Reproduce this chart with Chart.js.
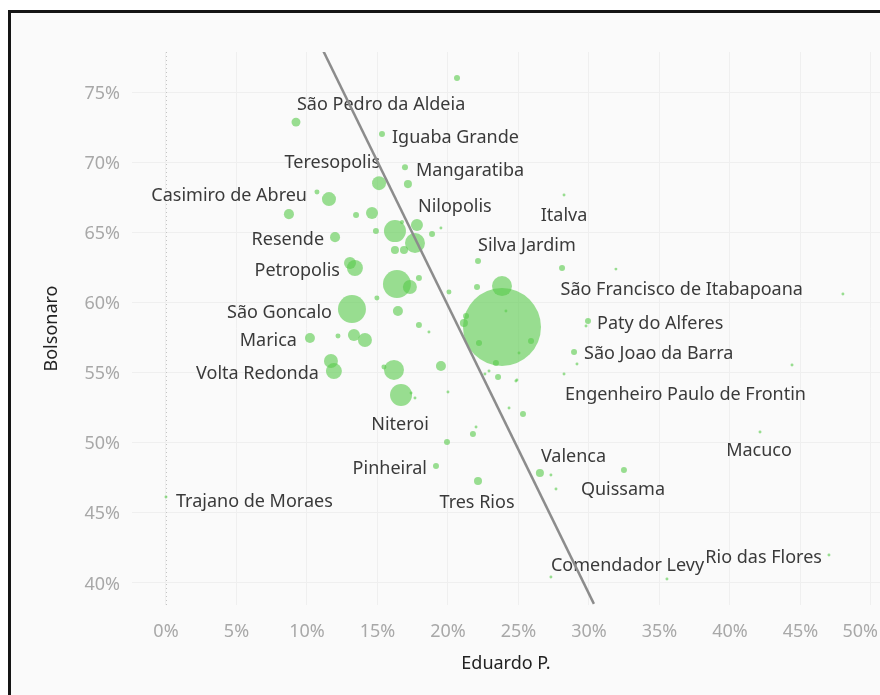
<!DOCTYPE html>
<html>
<head>
<meta charset="utf-8">
<script src="https://cdn.jsdelivr.net/npm/chart.js@4.4.1/dist/chart.umd.min.js"></script>
<style>
  html, body { margin: 0; padding: 0; background: #fff; overflow: hidden; }
  #marco { position: absolute; left: 8px; top: 10px; width: 900px; height: 700px; background: #fafafa;
           border-left: 3px solid #151515; border-top: 3px solid #151515; }
  #grafico { position: absolute; left: 0; top: 0; width: 880px; height: 695px; }
</style>
</head>
<body>
<div id="marco"></div>
<canvas id="grafico" width="880" height="695"></canvas>
<script>
// Datos: % Eduardo P. (x), % Bolsonaro (y), electores (miles) y nombre del municipio
const eduardo = [
  20.64, 9.22, 15.32, 16.95, 15.11, 17.16, 10.71, 11.56, 8.72, 13.48,
  14.61, 14.89, 16.24, 16.74, 17.80, 17.66, 18.87, 19.50, 11.99, 16.24,
  16.88, 22.13, 13.05, 13.40, 16.38, 17.30, 17.94, 20.07, 22.06, 23.83,
  14.96, 13.19, 16.45, 17.94, 18.65, 21.13, 21.28, 23.83, 24.11, 22.20,
  25.89, 10.21, 12.20, 13.33, 14.11, 11.70, 11.91, 16.17, 15.46, 19.50,
  23.40, 23.55, 22.91, 22.62, 25.04, 24.89, 16.67, 17.38, 17.66, 20.00,
  28.23, 28.09, 31.91, 48.01, 29.93, 29.79, 28.94, 29.15, 44.40, 28.23,
  24.82, 25.32, 24.33, 42.13, 26.52, 27.30, 32.48, 27.66, 47.02, 27.30,
  35.53, 21.99, 21.77, 19.93, 19.15, 22.13, 0.00
];
const bolsonaro = [
  76.00, 72.86, 72.01, 69.65, 68.51, 68.44, 67.87, 67.37, 66.30, 66.23,
  66.38, 65.09, 65.09, 65.73, 65.52, 64.24, 64.88, 65.31, 64.66, 63.74,
  63.74, 62.95, 62.81, 62.46, 61.31, 61.10, 61.74, 60.74, 61.10, 61.17,
  60.32, 59.53, 59.39, 58.39, 57.89, 58.54, 59.03, 58.25, 59.39, 57.11,
  57.25, 57.47, 57.61, 57.68, 57.32, 55.83, 55.11, 55.19, 55.40, 55.47,
  55.68, 54.69, 55.11, 54.90, 56.40, 54.47, 53.40, 53.55, 53.19, 53.62,
  67.66, 62.46, 62.38, 60.60, 58.68, 58.32, 56.47, 55.61, 55.54, 54.90,
  54.40, 52.05, 52.48, 50.77, 47.84, 47.70, 48.06, 46.70, 42.00, 40.43,
  40.29, 51.12, 50.62, 50.05, 48.34, 47.27, 46.13
];
const electores = [
  29, 65, 29, 29, 158, 52, 20, 158, 81, 29,
  116, 29, 390, 13, 116, 322, 29, 7, 81, 52,
  52, 29, 116, 206, 631, 158, 29, 20, 29, 322,
  20, 631, 81, 29, 7, 52, 29, 4900, 7, 29,
  29, 81, 20, 116, 158, 158, 206, 322, 20, 81,
  29, 29, 7, 7, 7, 7, 390, 7, 7, 7,
  7, 29, 7, 7, 29, 7, 29, 7, 7, 7,
  7, 29, 7, 7, 52, 7, 29, 7, 7, 7,
  7, 7, 29, 29, 29, 52, 7
];
const nombres = [
  '', 'São Pedro da Aldeia', 'Iguaba Grande', 'Mangaratiba', 'Teresopolis', '', 'Casimiro de Abreu', '', '', '',
  '', '', '', '', 'Nilopolis', '', '', '', 'Resende', '',
  '', 'Silva Jardim', '', 'Petropolis', '', '', '', '', '', '',
  '', 'São Goncalo', '', '', '', '', '', '', '', '',
  '', 'Marica', '', '', '', '', 'Volta Redonda', '', '', '',
  '', '', '', '', '', '', 'Niteroi', '', '', '',
  'Italva', '', '', 'São Francisco de Itabapoana', 'Paty do Alferes', '', 'São Joao da Barra', '', '', 'Engenheiro Paulo de Frontin',
  '', '', '', 'Macuco', 'Valenca', '', 'Quissama', '', 'Rio das Flores', 'Comendador Levy',
  '', '', '', '', 'Pinheiral', 'Tres Rios', 'Trajano de Moraes'
];

// Línea de tendencia (dos extremos)
const tendenciaX = [11.13, 30.35];
const tendenciaY = [77.99, 38.51];

// Marcas de los ejes
const ticksX = [0, 5, 10, 15, 20, 25, 30, 35, 40, 45, 50];
const ticksY = [40, 45, 50, 55, 60, 65, 70, 75];

// Posición de cada etiqueta respecto a su burbuja: [dx, dy, alineación]
const posEtiqueta = {
  'São Pedro da Aldeia': [1, -19, 'left'],
  'Iguaba Grande': [10, 2, 'left'],
  'Mangaratiba': [11, 2, 'left'],
  'Teresopolis': [1, -22, 'right'],
  'Casimiro de Abreu': [-10, 2, 'right'],
  'Nilopolis': [1, -20, 'left'],
  'Italva': [0, 19, 'center'],
  'Resende': [-11, 1, 'right'],
  'Silva Jardim': [0, -17, 'left'],
  'Petropolis': [-15, 1, 'right'],
  'São Francisco de Itabapoana': [-40, -6, 'right'],
  'São Goncalo': [-20, 2, 'right'],
  'Paty do Alferes': [9, 1, 'left'],
  'Marica': [-13, 1, 'right'],
  'São Joao da Barra': [10, 0, 'left'],
  'Volta Redonda': [-15, 1, 'right'],
  'Engenheiro Paulo de Frontin': [1, 19, 'left'],
  'Niteroi': [-1, 28, 'center'],
  'Macuco': [-1, 17, 'center'],
  'Valenca': [1, -18, 'left'],
  'Quissama': [-1, 18, 'center'],
  'Pinheiral': [-9, 1, 'right'],
  'Tres Rios': [-1, 20, 'center'],
  'Trajano de Moraes': [10, 3, 'left'],
  'Comendador Levy': [0, -13, 'left'],
  'Rio das Flores': [-7, 1, 'right']
};

const FUENTE = '"Noto Sans", sans-serif';
const radioMax = 39;      // radio de la burbuja más grande
const maxElectores = Math.max(...electores);

// Burbujas
const burbujas = eduardo.map((x, i) => ({
  x: x,
  y: bolsonaro[i],
  r: radioMax * Math.sqrt(electores[i] / maxElectores)
}));

// Etiquetas de municipios, dibujadas justo después de las burbujas
const etiquetas = {
  id: 'etiquetas',
  afterDatasetDraw(chart, args) {
    if (args.index !== 1) return;
    const ctx = chart.ctx;
    const meta = args.meta;
    ctx.save();
    ctx.font = '18px ' + FUENTE;
    ctx.fillStyle = '#3a3a3a';
    ctx.textBaseline = 'middle';
    nombres.forEach((n, i) => {
      if (!n) return;
      const p = posEtiqueta[n];
      const el = meta.data[i];
      ctx.textAlign = p[2];
      ctx.fillText(n, el.x + p[0], el.y + p[1] + 1.5);
    });
    ctx.restore();
  }
};

// Línea punteada en 0% y la etiqueta 50% ajustada al borde
const extras = {
  id: 'extras',
  beforeDatasetsDraw(chart) {
    const ctx = chart.ctx;
    const a = chart.chartArea;
    const x0 = chart.scales.x.getPixelForValue(0);
    ctx.save();
    ctx.strokeStyle = '#c4c4c4';
    ctx.lineWidth = 1;
    ctx.setLineDash([1, 3]);
    ctx.beginPath();
    ctx.moveTo(Math.round(x0) + 0.5, a.top);
    ctx.lineTo(Math.round(x0) + 0.5, a.bottom);
    ctx.stroke();
    ctx.restore();
  },
  afterDraw(chart) {
    const ctx = chart.ctx;
    const ultimo = ticksX[ticksX.length - 1];
    ctx.save();
    ctx.font = '18px ' + FUENTE;
    ctx.fillStyle = '#a8a8a8';
    ctx.textAlign = 'right';
    ctx.textBaseline = 'middle';
    ctx.fillText(ultimo + '%', chart.width - 2, chart.chartArea.bottom + 27);
    ctx.restore();
  }
};

new Chart(document.getElementById('grafico'), {
  data: {
    datasets: [
      {
        type: 'line',
        data: tendenciaX.map((x, i) => ({ x: x, y: tendenciaY[i] })),
        borderColor: '#8c8c8c',
        borderWidth: 2.5,
        pointRadius: 0,
        order: 0
      },
      {
        type: 'bubble',
        data: burbujas,
        backgroundColor: 'rgba(86, 202, 74, 0.6)',
        borderWidth: 0,
        order: 1
      }
    ]
  },
  options: {
    responsive: false,
    animation: false,
    layout: { autoPadding: false, padding: { top: 52, left: 0, right: 0, bottom: 0 } },
    plugins: {
      legend: { display: false },
      tooltip: { enabled: false }
    },
    scales: {
      x: {
        type: 'linear',
        min: -2.41,
        max: 50.64,
        afterBuildTicks: s => { s.ticks = ticksX.map(v => ({ value: v })); },
        afterFit: s => { s.height = 90; s.paddingRight = 0; s.paddingLeft = 0; },
        grid: { color: '#efefef', drawTicks: false },
        border: { display: false },
        ticks: {
          padding: 16,
          color: '#a8a8a8',
          font: { family: FUENTE, size: 18 },
          callback: v => v === ticksX[ticksX.length - 1] ? '' : v + '%'
        },
        title: {
          display: true,
          text: 'Eduardo P.',
          color: '#222',
          font: { family: FUENTE, size: 18 },
          padding: { top: 4, bottom: 20 }
        }
      },
      y: {
        type: 'linear',
        min: 38.43,
        max: 77.86,
        afterBuildTicks: s => { s.ticks = ticksY.map(v => ({ value: v })); },
        afterFit: s => { s.width = 132; },
        grid: { color: '#efefef', drawTicks: false },
        border: { display: false },
        ticks: {
          padding: 12,
          labelOffset: 1.5,
          color: '#a8a8a8',
          font: { family: FUENTE, size: 18 },
          callback: v => v + '%'
        },
        title: {
          display: true,
          text: 'Bolsonaro',
          color: '#222',
          font: { family: FUENTE, size: 18 },
          padding: { top: 41, bottom: 0 }
        }
      }
    }
  },
  plugins: [etiquetas, extras]
});
</script>
</body>
</html>
